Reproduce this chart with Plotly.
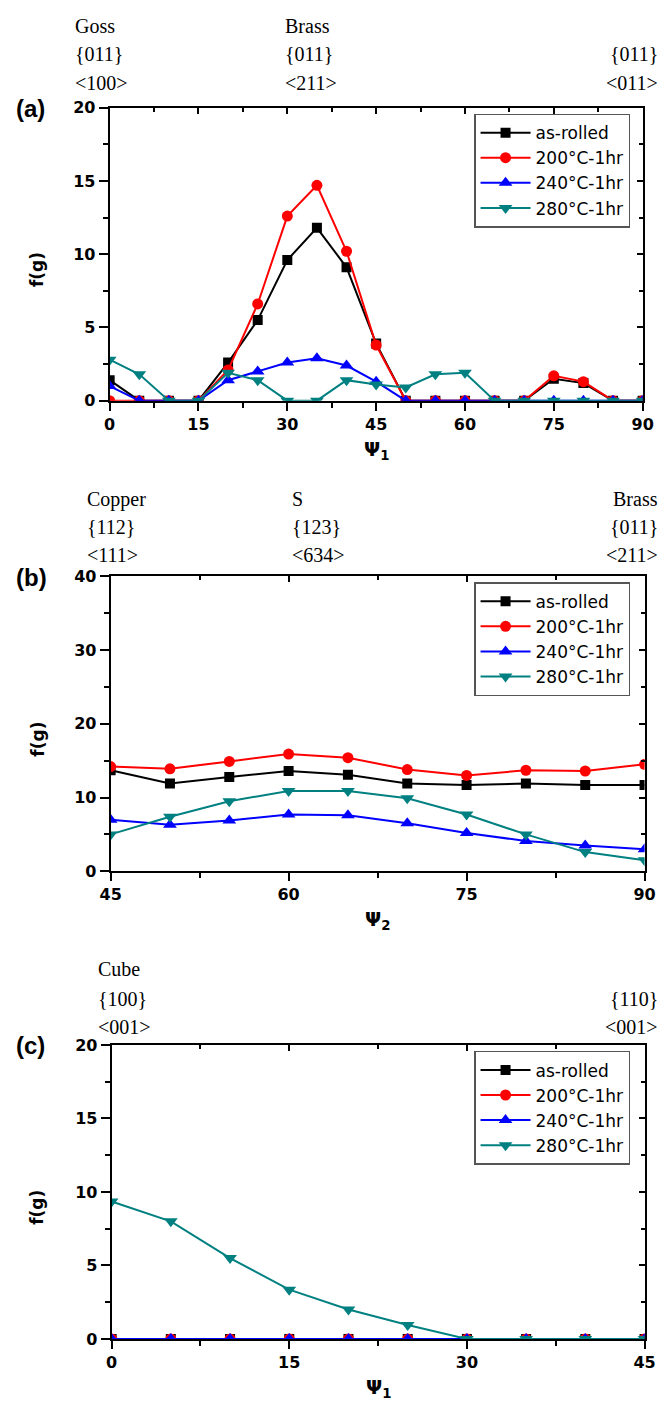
import plotly.graph_objects as go

# ---------------- data ----------------
series_names = ["as-rolled", "200°C-1hr", "240°C-1hr", "280°C-1hr"]

psi1_a = [0, 5, 10, 15, 20, 25, 30, 35, 40, 45, 50, 55, 60, 65, 70, 75, 80, 85, 90]
a_asrolled = [1.4, 0, 0, 0, 2.6, 5.5, 9.6, 11.8, 9.1, 3.9, 0, 0, 0, 0, 0, 1.5, 1.2, 0, 0]
a_200 = [0, 0, 0, 0, 2.1, 6.6, 12.6, 14.7, 10.2, 3.8, 0, 0, 0, 0, 0, 1.7, 1.3, 0, 0]
a_240 = [1.0, 0, 0, 0, 1.4, 2.0, 2.6, 2.9, 2.4, 1.3, 0, 0, 0, 0, 0, 0, 0, 0, 0]
a_280 = [2.8, 1.8, 0, 0, 1.9, 1.4, 0, 0, 1.4, 1.1, 0.9, 1.8, 1.9, 0, 0, 0, 0, 0, 0]

psi2_b = [45, 50, 55, 60, 65, 70, 75, 80, 85, 90]
b_asrolled = [13.7, 11.9, 12.8, 13.6, 13.1, 11.9, 11.7, 11.9, 11.7, 11.7]
b_200 = [14.2, 13.9, 14.9, 15.9, 15.4, 13.8, 13.0, 13.7, 13.6, 14.5]
b_240 = [7.0, 6.3, 6.9, 7.7, 7.6, 6.5, 5.2, 4.1, 3.5, 3.0]
b_280 = [5.0, 7.4, 9.5, 10.9, 10.9, 9.9, 7.7, 5.0, 2.6, 1.5]

psi1_c = [0, 5, 10, 15, 20, 25, 30, 35, 40, 45]
c_asrolled = [0, 0, 0, 0, 0, 0, 0, 0, 0, 0]
c_200 = [0, 0, 0, 0, 0, 0, 0, 0, 0, 0]
c_240 = [0, 0, 0, 0, 0, 0, 0, 0, 0, 0]
c_280 = [9.35, 8.0, 5.5, 3.35, 2.0, 0.95, 0, 0, 0, 0]

x_ticks_a = [0, 15, 30, 45, 60, 75, 90]
x_ticks_b = [45, 60, 75, 90]
x_ticks_c = [0, 15, 30, 45]

top_labels_a = [("Goss", "{011}", "<100>", "left", 64), ("Brass", "{011}", "<211>", "left", 281),
                (None, "{011}", "<011>", "right", 671)]
top_labels_b = [("Copper", "{112}", "<111>", "left", 77), ("S", "{123}", "<634>", "left", 288),
                ("Brass", "{011}", "<211>", "right", 671)]
top_labels_c = [("Cube", "{100}", "<001>", "left", 88), (None, "{110}", "<001>", "right", 671)]

# ---------------- style ----------------
W, H = 672, 1418
colors = ["#000000", "#ff0000", "#0000ff", "#008080"]
symbols = ["square", "circle", "triangle-up", "triangle-down"]
msizes = [10, 11, 12, 12]

def fx(px):
    return px / W

def fy(py):
    return 1 - py / H

panels = [
    dict(box=(102, 653, 100, 397), xr=[0, 90], yr=[0, 20], ydt=5, xt=x_ticks_a,
         data=(psi1_a, [a_asrolled, a_200, a_240, a_280]), letter="(a)", xt_title="Ψ<sub>1</sub>",
         labels=top_labels_a, lines_y=(17, 46, 75)),
    dict(box=(103, 655, 575, 874), xr=[45, 90], yr=[0, 40], ydt=10, xt=x_ticks_b,
         data=(psi2_b, [b_asrolled, b_200, b_240, b_280]), letter="(b)", xt_title="Ψ<sub>2</sub>",
         labels=top_labels_b, lines_y=(497, 525, 553)),
    dict(box=(104, 655, 1050, 1348), xr=[0, 45], yr=[0, 20], ydt=5, xt=x_ticks_c,
         data=(psi1_c, [c_asrolled, c_200, c_240, c_280]), letter="(c)", xt_title="Ψ<sub>1</sub>",
         labels=top_labels_c, lines_y=(973, 1003, 1032)),
]

fig = go.Figure()
layout = dict(width=W, height=H, margin=dict(l=0, r=0, t=0, b=0),
              paper_bgcolor="white", plot_bgcolor="white", showlegend=True)
annotations = []
tick_font = dict(family="DejaVu Sans", size=16, color="black", weight="bold")

for i, p in enumerate(panels):
    n = i + 1
    x0, x1, y0, y1 = p["box"]
    xd = [fx(x0), fx(x1)]
    yd = [fy(y1), fy(y0)]
    xs = "" if n == 1 else str(n)
    xname, yname = "x" + xs, "y" + xs
    xo, yo = str(n + 3), str(n + 3)
    legname = "legend" if n == 1 else "legend" + str(n)
    xs_data, ys_list = p["data"]
    for k in range(4):
        fig.add_trace(go.Scatter(
            x=xs_data, y=ys_list[k], mode="lines+markers", name=series_names[k],
            line=dict(color=colors[k], width=2),
            marker=dict(symbol=symbols[k], size=msizes[k], color=colors[k]),
            xaxis=xname, yaxis=yname, legend=legname))
    # empty trace binding the top/right frame axes
    fig.add_trace(go.Scatter(x=[None], y=[None], xaxis="x" + xo, yaxis="y" + yo,
                             showlegend=False, hoverinfo="skip"))
    dx = 7.5
    dy = p["ydt"] / 2
    layout["xaxis" + xs] = dict(domain=xd, range=p["xr"], anchor=yname, showline=True, linewidth=2,
                                linecolor="black", ticks="outside", ticklen=8, tickwidth=2,
                                tickcolor="black", tickvals=p["xt"], showgrid=False, zeroline=False,
                                tickfont=tick_font,
                                minor=dict(dtick=dx, tick0=p["xr"][0], ticks="outside", ticklen=5,
                                           tickwidth=1.5, tickcolor="black", showgrid=False))
    layout["yaxis" + xs] = dict(domain=yd, range=p["yr"], anchor=xname, showline=True, linewidth=2,
                                linecolor="black", ticks="outside", ticklen=9, tickwidth=2,
                                tickcolor="black", dtick=p["ydt"], tick0=0, showgrid=False,
                                zeroline=False, tickfont=tick_font,
                                minor=dict(dtick=dy, ticks="outside", ticklen=5, tickwidth=1.5,
                                           tickcolor="black", showgrid=False))
    layout["xaxis" + xo] = dict(domain=xd, range=p["xr"], anchor="y" + yo, overlaying=xname,
                                side="top", showline=True, linewidth=2, linecolor="black",
                                ticks="inside", ticklen=6, tickwidth=2, tickcolor="black",
                                tickvals=p["xt"], showticklabels=False, showgrid=False,
                                zeroline=False,
                                minor=dict(dtick=dx, tick0=p["xr"][0], ticks="inside", ticklen=4,
                                           tickwidth=1.5, tickcolor="black", showgrid=False))
    layout["yaxis" + yo] = dict(domain=yd, range=p["yr"], anchor="x" + xo, overlaying=yname,
                                side="right", showline=True, linewidth=2, linecolor="black",
                                ticks="inside", ticklen=6, tickwidth=2, tickcolor="black",
                                dtick=p["ydt"], tick0=0, showticklabels=False, showgrid=False,
                                zeroline=False,
                                minor=dict(dtick=dy, ticks="inside", ticklen=4, tickwidth=1.5,
                                           tickcolor="black", showgrid=False))
    layout[legname] = dict(x=fx(640), xanchor="right", y=fy(y0 + 6), yanchor="top",
                           bgcolor="white", bordercolor="#555555", borderwidth=1.5,
                           itemwidth=50, font=dict(family="DejaVu Sans", size=17, color="black"),
                           tracegroupgap=0)
    # panel letter
    annotations.append(dict(text="<b>" + p["letter"] + "</b>", x=fx(3), y=fy(y0 + 1), xref="paper",
                            yref="paper", xanchor="left", yanchor="middle", showarrow=False,
                            font=dict(family="Liberation Sans", size=24, color="black")))
    # axis titles
    annotations.append(dict(text="<b>f(g)</b>", x=fx(27), y=fy((y0 + y1) / 2 + 16), xref="paper",
                            yref="paper", textangle=-90, xanchor="center", yanchor="middle",
                            showarrow=False,
                            font=dict(family="DejaVu Sans", size=17, color="black")))
    annotations.append(dict(text="<b>" + p["xt_title"] + "</b>", x=fx((x0 + x1) / 2), y=fy(y1 + 50),
                            xref="paper", yref="paper", xanchor="center", yanchor="middle",
                            showarrow=False,
                            font=dict(family="DejaVu Sans", size=19, color="black")))
    # texture labels
    for lab in p["labels"]:
        name, plane, direc, anchor, xpx = lab
        for txt, ly in zip((name, plane, direc), p["lines_y"]):
            if txt is None:
                continue
            annotations.append(dict(text=txt.replace("<", "&lt;").replace(">", "&gt;"),
                                    x=fx(xpx), y=fy(ly), xref="paper", yref="paper",
                                    xanchor=anchor, yanchor="middle", showarrow=False,
                                    font=dict(family="Liberation Serif", size=20, color="black")))

layout["annotations"] = annotations
fig.update_layout(**layout)
fig.write_html("out.html")
